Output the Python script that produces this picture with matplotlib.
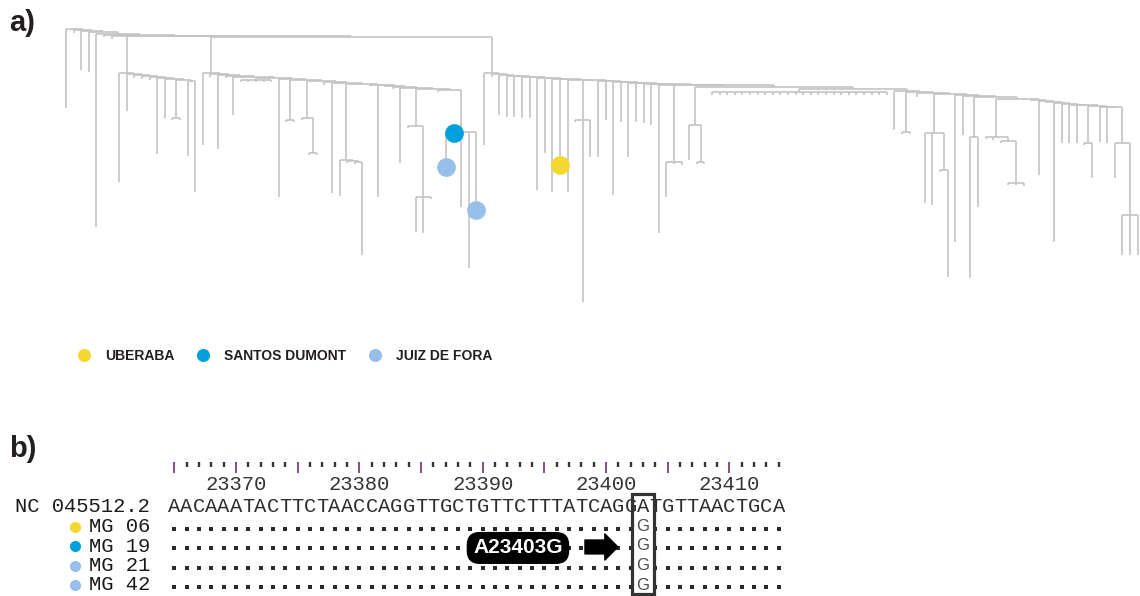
import matplotlib
matplotlib.use("Agg")
import matplotlib.pyplot as plt
from matplotlib.collections import LineCollection
from matplotlib.lines import Line2D
from matplotlib.patches import Rectangle, FancyArrowPatch

plt.rcParams["font.family"] = ["Liberation Sans", "DejaVu Sans"]

# ---------------- phylogeny -----------------------------------------------
# Divergence from the root. A tip is a number (its divergence) or a
# (divergence, sample) pair; an inner clade is [node divergence, children...].
# Ladder-shaped backbones are written as rung divergences plus hanging items.
top_depths = [0, 1, 2, 3, 5, 6, 7, 7, 8]
top_tips = [79, 4, 41, 43, 198, 8, 10]

clade_a_depths = [44, 45, 46, 47, 48, 49, 50, 51, 52]
clade_a_items = [153, 82, 49, 50, 51, 125, 89, [89, 91, 91], 127, 163]

clade_b_depths = [44, 45, 46, 47, 48, 49, 50, 51, 52, 53,
                  54, 55, 56, 56, 57, 58, 59, 60, 61]
clade_b_items = [116, 48, 120, 49, 86, [51, 53, 53, 53, 53, 53], 168,
                 [91, 93, 93], [89, 91, [124, 126, 126]], 56, 164,
                 [131, 167, [132, 134, [133, 135, 226]]], 57, 168, 58, 60, 134,
                 [97, 99, [168, 203, 204, 170]], 63,
                 [103, (138, "MG 21"), (104, "MG 19"), 178, 239, (181, "MG 42")]]

clade_c_depths = [44, 45, 46, 46.5, 47, 47.5, 48, 48.5, 49, 49.5,
                  50, 50.5, 51, 51.5, 52, 52.5, 53, 53.5, 54, 54.5,
                  55, 55.5, 56, 58, 60, 62, 63, 64, 65, 66,
                  67, 68, 70, 71, 72, 73, 74, 75, 75.5, 76,
                  77, 77.5, 78]
clade_c_items = [116, 48, 86, 88, 88, 89, 89, 161, 124, 163,
                 (136, "MG 06"), 163, [91, 93, 273, 128], 128, 91, 166, 93, 128, 93, 94,
                 96, 204, [133, 168, 135, 136], [96, 131, [133, 135, 135]],
                 [63] + [66] * 24,
                 101, [103, 105, 105], 68, [104, 174, 176, [141, 143, 248]], 213,
                 106, [108, 249, 178], [108, 110, 111, [112, 114, [154, 156, 156, 157]]],
                 72, 146, 74, 213, 114, 114, 114, [114, 116, 149], 113, 114,
                 [114, 149, [186, 226, 226, 226]]]

# ---------------- samples and the spike mutation --------------------------
cities = ["UBERABA", "SANTOS DUMONT", "JUIZ DE FORA"]
city_colors = ["#f5d732", "#00a0dc", "#96bfea"]
samples = ["MG 06", "MG 19", "MG 21", "MG 42"]
sample_city = ["UBERABA", "SANTOS DUMONT", "JUIZ DE FORA", "JUIZ DE FORA"]

reference_name = "NC 045512.2"
reference_seq = "AACAAATACTTCTAACCAGGTTGCTGTTCTTTATCAGGATGTTAACTGCA"
seq_start = 23365
mutation_pos = 23403
mutation_ref = "A"
mutation_alt = "G"


def ladder(depths, items):
    node = [depths[-1], items[-2], items[-1]]
    for d, it in zip(reversed(depths[:-1]), reversed(items[:-2])):
        node = [d, it, node]
    return node


tree = ladder(top_depths, top_tips + [ladder(clade_a_depths, clade_a_items),
                                      ladder(clade_b_depths, clade_b_items),
                                      ladder(clade_c_depths, clade_c_items)])


def layout(node, parent, st):
    if isinstance(node, list):
        d = node[0]
        xs = [layout(c, d, st) for c in node[1:]]
        x = sum(xs) / len(xs)
        st["seg"].append([(min(xs), d), (max(xs), d)])
        if parent is not None:
            st["seg"].append([(x, parent), (x, d)])
        return x
    tip, name = node if isinstance(node, tuple) else (node, None)
    x = st["slot"]
    st["slot"] += 1
    st["seg"].append([(x, parent), (x, tip)])
    if name:
        st["tips"][name] = (x, tip)
    return x


state = {"slot": 0, "seg": [], "tips": {}}
layout(tree, None, state)

W, H = 1140, 596
fig = plt.figure(figsize=(W / 100, H / 100), dpi=100)
fig.patch.set_facecolor("white")

# page layer for panel letters
page = fig.add_axes([0, 0, 1, 1])
page.set_xlim(0, W)
page.set_ylim(H, 0)
page.axis("off")
page.text(9, 23, "a)", fontsize=21, fontweight="bold", color="#231f20",
          ha="left", va="center")
page.text(9, 449, "b)", fontsize=21, fontweight="bold", color="#231f20",
          ha="left", va="center")

# ---------------- panel a: tree ------------------------------------------
tree_top_px = 320
pitch = 7.6
ax = fig.add_axes([0, 1 - tree_top_px / H, 1, tree_top_px / H])
ax.set_xlim(-66 / pitch, (W - 66) / pitch)
ax.set_ylim(tree_top_px - 29, -29)
ax.axis("off")
ax.add_collection(LineCollection(state["seg"], colors="#c4c4c4", linewidths=1.2,
                                 capstyle="butt"))
for s, c in zip(samples, sample_city):
    x, y = state["tips"][s]
    ax.plot(x, y, "o", ms=13.5, color=city_colors[cities.index(c)], mec="none",
            zorder=5)

handles = [Line2D([], [], ls="none", marker="o", ms=9.4, color=col, mec="none")
           for col in city_colors]
fig.legend(handles, cities, ncol=3, frameon=False, loc="center left",
           bbox_to_anchor=(77 / W, 1 - 356 / H), borderaxespad=0, borderpad=0,
           handlelength=1.0, handletextpad=1.01, columnspacing=1.59,
           prop={"family": "Liberation Sans", "weight": "bold", "size": 10},
           labelcolor="#231f20")

# ---------------- panel b: alignment -------------------------------------
cw = 12.34            # pixels per base
x0_px = 174.17        # centre of first base
row_px, row0_px = 19.5, 507
top_px = 400
axb = fig.add_axes([0, 0, 1, (H - top_px) / H])
axb.set_xlim(seq_start - x0_px / cw, seq_start + (W - x0_px) / cw)
axb.set_ylim((H - row0_px) / row_px, (top_px - row0_px) / row_px)
axb.axis("off")

mono = {"family": "Liberation Mono", "size": 14.8}
positions = [seq_start + i for i in range(len(reference_seq))]

# ruler
for p in positions:
    if p % 5 == 0:
        axb.vlines(p, -2.31, -1.74, color="#7d3f7f", lw=1.3)
    else:
        axb.vlines(p, -2.31, -2.05, color="#333333", lw=1.7)
for p in positions:
    if p % 10 == 0:
        axb.text(p, -1.13, str(p), ha="center", va="center", color="#333333",
                 fontdict=mono)

# reference row
for p, b in zip(positions, reference_seq):
    axb.text(p, 0, b, ha="center", va="center", color="#2e2e2e", fontdict=mono)
axb.text(seq_start - 0.5 - 18 / cw, 0, reference_name, ha="right", va="center",
         color="#1a1a1a", fontdict=mono)

# sample rows
for r, (s, c) in enumerate(zip(samples, sample_city), start=1):
    axb.text(seq_start - 0.5 - 18 / cw, r, s, ha="right", va="center",
             color="#1a1a1a", fontdict=mono)
    axb.plot(seq_start - 99.2 / cw, r, "o", ms=8, color=city_colors[cities.index(c)],
             mec="none")
    dots = [p for p in positions if p != mutation_pos]
    axb.scatter(dots, [r + 0.12] * len(dots), s=5, marker="s", color="#2a2a2a",
                linewidths=0, zorder=2)
    axb.text(mutation_pos, r, mutation_alt, ha="center", va="center",
             color="#4d4650", fontsize=12)

# highlight box around the mutated site
axb.add_patch(Rectangle((mutation_pos - 0.86, -0.67), 1.72, 5.13, fill=False,
                        ec="#333333", lw=2.3, zorder=4))

# mutation tag and arrow
axb.text(mutation_pos - 10.14, 2.1, f"{mutation_ref}{mutation_pos}{mutation_alt}",
         ha="center", va="center", color="white", fontsize=15, fontweight="bold",
         zorder=6,
         bbox=dict(boxstyle="round,pad=0.28,rounding_size=0.6", fc="black",
                   ec="black"))
axb.add_patch(FancyArrowPatch((mutation_pos - 4.71, 2.05), (mutation_pos - 2.04, 2.05),
                              arrowstyle="simple,head_length=0.47,head_width=0.94,tail_width=0.5",
                              mutation_scale=20, color="black", shrinkA=0, shrinkB=0,
                              zorder=6))

fig.savefig("out.png", dpi=100, facecolor="white")
